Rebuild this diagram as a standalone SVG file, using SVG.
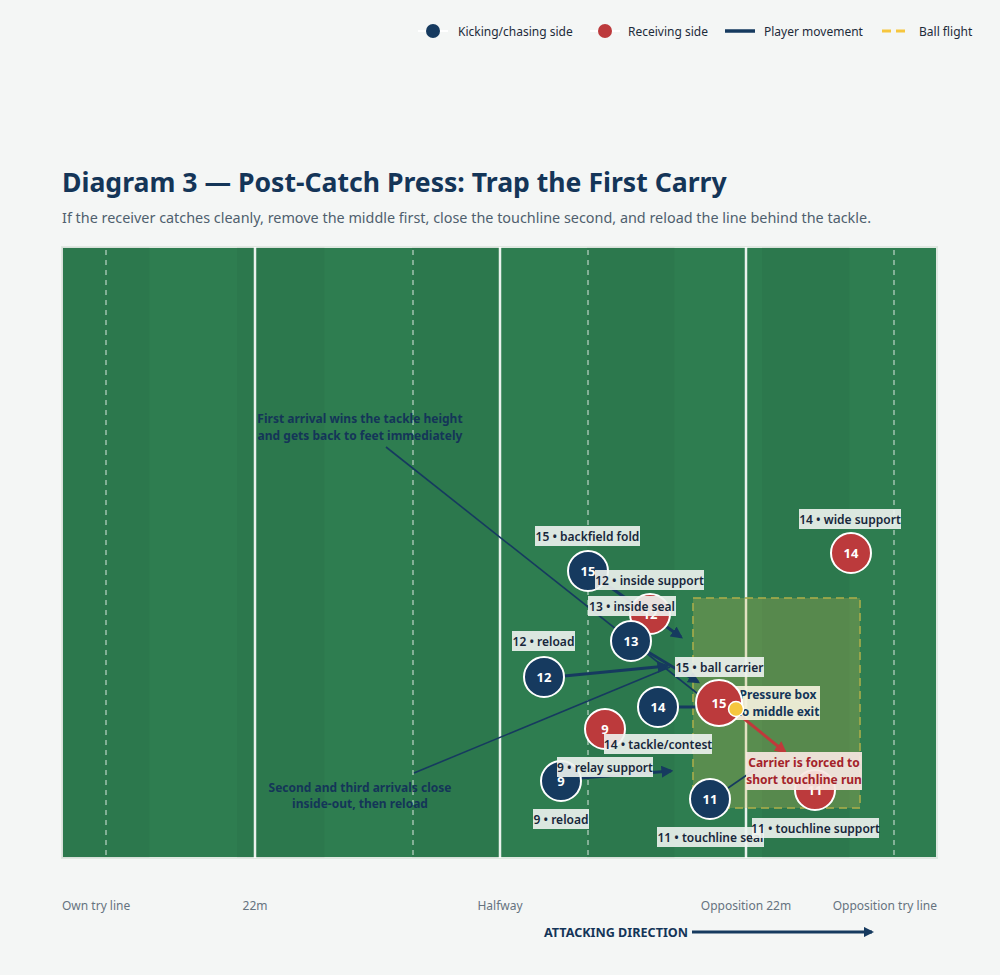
<svg xmlns="http://www.w3.org/2000/svg" width="1000" height="975" viewBox="0 0 1000 975">
<defs>
<marker id="ah" viewBox="0 0 10 10" refX="8" refY="5" markerWidth="4" markerHeight="4" orient="auto" markerUnits="strokeWidth"><path d="M0,0 L10,5 L0,10 z" fill="#163a5f"/></marker>
<marker id="ahr" viewBox="0 0 10 10" refX="8" refY="5" markerWidth="4" markerHeight="4" orient="auto" markerUnits="strokeWidth"><path d="M0,0 L10,5 L0,10 z" fill="#c0393b"/></marker>
<marker id="ahd" viewBox="0 0 10 10" refX="8" refY="5" markerWidth="3.5" markerHeight="3.5" orient="auto" markerUnits="strokeWidth"><path d="M0,0 L10,5 L0,10 z" fill="#163a5f"/></marker>
</defs>
<style>
text{font-family:"Noto Sans","Open Sans","DejaVu Sans",sans-serif}
.leg{font-size:12px;fill:#1d2b3a}
.title{font-size:26.6px;font-weight:700;fill:#143558}
.sub{font-size:14.4px;fill:#4f5f6e}
.axis{font-size:12px;fill:#66737f}
.ln{stroke:#ffffff;stroke-width:2.5;opacity:0.9}
.dl{stroke:#ffffff;stroke-width:1.5;stroke-dasharray:5 5;opacity:0.55}
.stripe{fill:#000;opacity:0.035}
.pl{stroke:#ffffff;stroke-width:2}
.k{fill:#163a5f}
.r{fill:#bc3a3c}
.num{font-size:13px;font-weight:700;fill:#ffffff;text-anchor:middle}
.lb{fill:#eef3ef;opacity:0.9}
.lt{font-size:12px;font-weight:600;fill:#17263a;text-anchor:middle}
.mv{stroke:#163a5f;stroke-width:3;fill:none;marker-end:url(#ah)}
.an{stroke:#163a5f;stroke-width:1.6;fill:none}
.ant{font-size:12px;font-weight:700;fill:#143558;text-anchor:middle}
</style>
<rect width="1000" height="975" fill="#f4f6f5"/>

<g id="legend">
<line x1="418" y1="31" x2="448" y2="31" stroke="#ffffff" stroke-width="2"/>
<circle cx="433" cy="31" r="7" class="k"/>
<text x="458" y="35.5" class="leg">Kicking/chasing side</text>
<line x1="590" y1="31" x2="620" y2="31" stroke="#ffffff" stroke-width="2"/>
<circle cx="605" cy="31" r="7" class="r"/>
<text x="628" y="35.5" class="leg">Receiving side</text>
<line x1="725" y1="31" x2="755" y2="31" stroke="#163a5f" stroke-width="3.5"/>
<text x="764" y="35.5" class="leg">Player movement</text>
<line x1="882" y1="31" x2="908" y2="31" stroke="#f6c63e" stroke-width="3" stroke-dasharray="9 5"/>
<text x="919" y="35.5" class="leg">Ball flight</text>
</g>

<g id="titles">
<text x="62" y="192" class="title">Diagram 3 — Post-Catch Press: Trap the First Carry</text>
<text x="62" y="223" class="sub">If the receiver catches cleanly, remove the middle first, close the touchline second, and reload the line behind the tackle.</text>
</g>

<g id="field">
<rect x="62" y="247" width="875" height="611" fill="#2e7d50" stroke="#dfe8e1" stroke-width="2"/>
<rect x="62" y="247" width="87.5" height="611" class="stripe"/>
<rect x="237" y="247" width="87.5" height="611" class="stripe"/>
<rect x="412" y="247" width="87.5" height="611" class="stripe"/>
<rect x="587" y="247" width="87.5" height="611" class="stripe"/>
<rect x="762" y="247" width="87.5" height="611" class="stripe"/>
<line x1="106" y1="250" x2="106" y2="856" class="dl"/>
<line x1="413" y1="250" x2="413" y2="856" class="dl"/>
<line x1="588" y1="250" x2="588" y2="856" class="dl"/>
<line x1="894" y1="250" x2="894" y2="856" class="dl"/>
<line x1="255" y1="247" x2="255" y2="858" class="ln"/>
<line x1="500" y1="247" x2="500" y2="858" class="ln"/>
<line x1="746" y1="247" x2="746" y2="858" class="ln"/>
</g>

<g id="pressure-box">
<rect x="693" y="598" width="167" height="210" fill="#c9b850" fill-opacity="0.28" stroke="#a8ad4a" stroke-width="2" stroke-dasharray="8 5" stroke-opacity="0.8"/>
</g>

<g id="connectors">
<line x1="386" y1="447" x2="698" y2="694" class="an"/>
<line x1="414" y1="773" x2="670" y2="667" class="an"/>
<line x1="600" y1="580" x2="681" y2="637" class="mv"/>
<line x1="648" y1="652" x2="698" y2="682" class="mv"/>
<line x1="564" y1="676" x2="667" y2="666" class="mv"/>
<line x1="678" y1="707" x2="700" y2="707" stroke="#163a5f" stroke-width="3"/>
<line x1="581" y1="778" x2="671" y2="771" class="mv"/>
<line x1="728" y1="788" x2="757" y2="768" class="an" stroke-width="2.5"/>
<line x1="737" y1="713" x2="785" y2="752" stroke="#c0393b" stroke-width="3" marker-end="url(#ahr)"/>
</g>

<g id="pressure-label">
<rect x="736" y="686" width="84" height="34" fill="#f4f1dc" opacity="0.92"/>
<text x="778" y="699" class="ant" font-size="11.5">Pressure box</text>
<text x="778" y="716" class="ant" font-size="11.5">to middle exit</text>
</g>

<g id="k15"><circle cx="588" cy="571" r="20" class="k pl"/><text x="588" y="576" class="num">15</text></g>
<g id="r12"><circle cx="650" cy="614" r="20" class="r pl"/><text x="650" y="619" class="num">12</text></g>
<g id="k13"><circle cx="631" cy="641" r="20" class="k pl"/><text x="631" y="646" class="num">13</text></g>
<g id="k12"><circle cx="544" cy="677" r="20" class="k pl"/><text x="544" y="682" class="num">12</text></g>
<g id="k14"><circle cx="658" cy="707" r="20" class="k pl"/><text x="658" y="712" class="num">14</text></g>
<g id="r9"><circle cx="605" cy="729" r="20" class="r pl"/><text x="605" y="734" class="num">9</text></g>
<g id="k9"><circle cx="561" cy="781" r="20" class="k pl"/><text x="561" y="786" class="num">9</text></g>
<g id="r11"><circle cx="815" cy="790" r="20" class="r pl"/><text x="815" y="795" class="num">11</text></g>
<g id="k11"><circle cx="710" cy="799" r="20" class="k pl"/><text x="710" y="804" class="num">11</text></g>
<g id="r14"><circle cx="851" cy="553" r="20" class="r pl"/><text x="851" y="558" class="num">14</text></g>
<g id="r15"><circle cx="719" cy="703" r="23" class="r pl"/><text x="719" y="708" class="num">15</text></g>
<g id="ball"><circle cx="736" cy="709" r="7.5" fill="#f6c63e" stroke="#ffffff" stroke-width="1.5"/></g>

<g id="labels">
<rect x="535" y="526" width="105" height="20" class="lb"/><text x="587.5" y="540.5" class="lt">15 • backfield fold</text>
<rect x="595" y="570" width="109" height="20" class="lb"/><text x="649.5" y="584.5" class="lt">12 • inside support</text>
<rect x="588" y="596" width="88" height="20" class="lb"/><text x="632" y="610.5" class="lt">13 • inside seal</text>
<rect x="512" y="631" width="63" height="20" class="lb"/><text x="543.5" y="645.5" class="lt">12 • reload</text>
<rect x="675" y="657" width="89" height="20" class="lb"/><text x="719.5" y="671.5" class="lt">15 • ball carrier</text>
<rect x="604" y="734" width="108" height="20" class="lb"/><text x="658" y="748.5" class="lt">14 • tackle/contest</text>
<rect x="557" y="757" width="96" height="20" class="lb"/><text x="605" y="771.5" class="lt">9 • relay support</text>
<rect x="533" y="809" width="56" height="20" class="lb"/><text x="561" y="823.5" class="lt">9 • reload</text>
<rect x="657" y="827" width="107" height="20" class="lb"/><text x="710.5" y="841.5" class="lt">11 • touchline seal</text>
<rect x="752" y="818" width="127" height="20" class="lb"/><text x="815.5" y="832.5" class="lt">11 • touchline support</text>
<rect x="799" y="509" width="102" height="20" class="lb"/><text x="850" y="523.5" class="lt">14 • wide support</text>
</g>

<g id="carrier-note">
<rect x="746" y="752" width="116" height="38" fill="#f7e7e2" opacity="0.92"/>
<text x="804" y="767" class="ant" style="fill:#a4232a">Carrier is forced to</text>
<text x="804" y="784" class="ant" style="fill:#a4232a">short touchline run</text>
</g>

<g id="annotations">
<text x="360" y="423" class="ant">First arrival wins the tackle height</text>
<text x="360" y="440" class="ant">and gets back to feet immediately</text>
<text x="360" y="792" class="ant">Second and third arrivals close</text>
<text x="360" y="808" class="ant">inside-out, then reload</text>
</g>

<g id="axis">
<text x="62" y="910" class="axis">Own try line</text>
<text x="255" y="910" class="axis" text-anchor="middle">22m</text>
<text x="500" y="910" class="axis" text-anchor="middle">Halfway</text>
<text x="746" y="910" class="axis" text-anchor="middle">Opposition 22m</text>
<text x="937" y="910" class="axis" text-anchor="end">Opposition try line</text>
<text x="688" y="936.5" class="ant" style="text-anchor:end;font-size:12.6px">ATTACKING DIRECTION</text>
<line x1="692" y1="932" x2="872" y2="932" stroke="#163a5f" stroke-width="3" marker-end="url(#ahd)"/>
</g>
</svg>
